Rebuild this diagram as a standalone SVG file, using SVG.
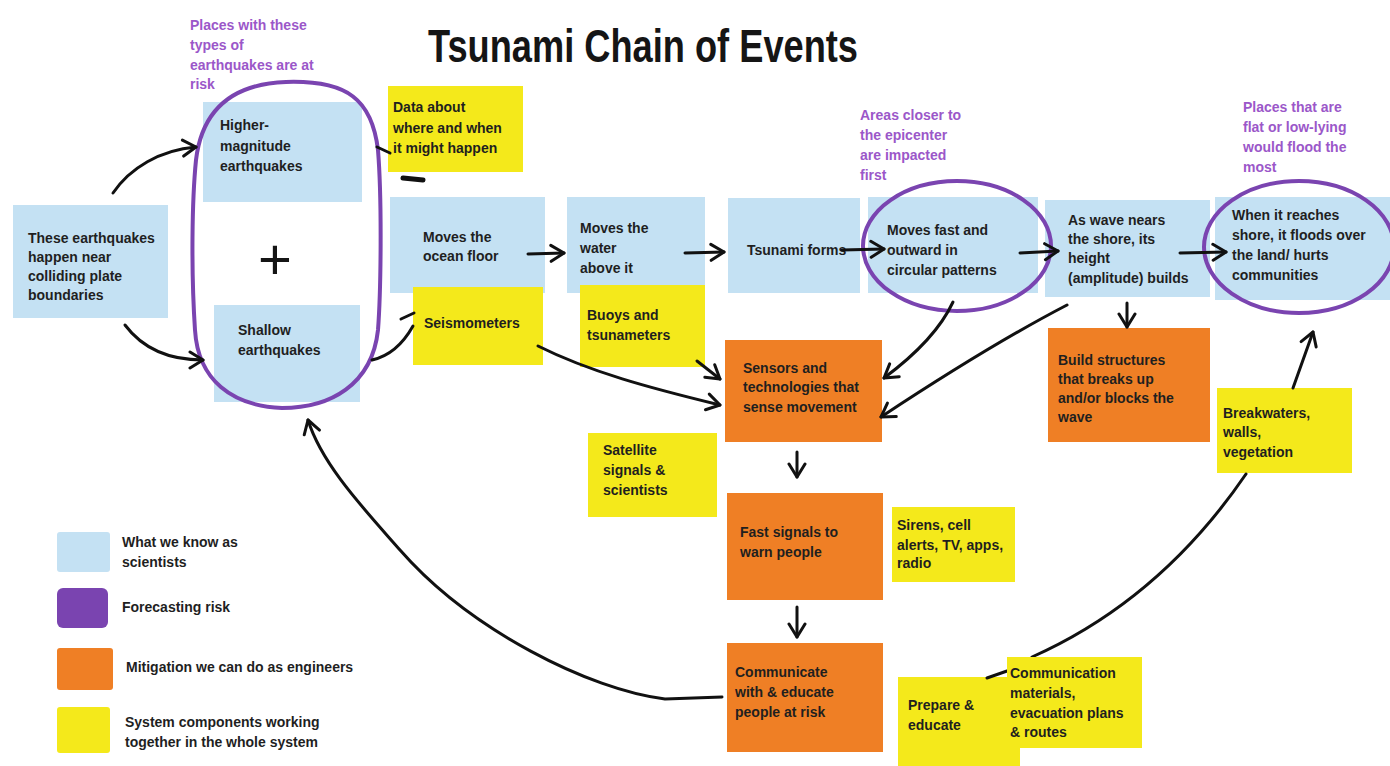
<svg xmlns="http://www.w3.org/2000/svg" width="1390" height="766" viewBox="0 0 1390 766">
  <style>
    .sci rect { fill: #c4e1f3; }
    .sys rect { fill: #f4e91b; }
    .mit rect { fill: #ef7f25; }
    .risk { fill: none; stroke: #7a44b0; stroke-width: 4; }
    text { font-family: "Liberation Sans", Arial, sans-serif; font-weight: bold; font-size: 14px; fill: #1f1f1f; }
    text.p { fill: #9b57c9; }
    text.title { font-family: "Liberation Sans Narrow", "Liberation Sans", Arial, sans-serif; font-size: 46px; fill: #151515; }
    .c { fill: none; stroke: #111; stroke-width: 3; stroke-linecap: round; stroke-linejoin: round; }
  </style>
  <defs>
    <marker id="ah" viewBox="0 0 20 20" refX="17" refY="10" markerWidth="20" markerHeight="20" markerUnits="userSpaceOnUse" orient="auto">
      <path d="M4,2 L17,10 L4,18" fill="none" stroke="#111" stroke-width="3" stroke-linecap="round" stroke-linejoin="round"/>
    </marker>
  </defs>

  <rect width="1390" height="766" fill="#ffffff"/>

  <text class="title" x="428" y="62" textLength="430" lengthAdjust="spacingAndGlyphs">Tsunami Chain of Events</text>

  <!-- What we know as scientists -->
  <g id="plates" class="sci">
    <rect x="13" y="205" width="155" height="113"/>
    <text><tspan x="28" y="243">These earthquakes</tspan><tspan x="28" y="262">happen near</tspan><tspan x="28" y="281">colliding plate</tspan><tspan x="28" y="300">boundaries</tspan></text>
  </g>
  <g id="higher" class="sci">
    <rect x="203" y="102" width="159" height="100"/>
    <text><tspan x="220" y="130">Higher-</tspan><tspan x="220" y="151">magnitude</tspan><tspan x="220" y="171">earthquakes</tspan></text>
  </g>
  <g id="shallow" class="sci">
    <rect x="214" y="305" width="146" height="97"/>
    <text><tspan x="238" y="335">Shallow</tspan><tspan x="238" y="355">earthquakes</tspan></text>
  </g>
  <g id="ocean-floor" class="sci">
    <rect x="390" y="197" width="155" height="96"/>
    <text><tspan x="423" y="242">Moves the</tspan><tspan x="423" y="261">ocean floor</tspan></text>
  </g>
  <g id="water" class="sci">
    <rect x="567" y="197" width="138" height="96"/>
    <text><tspan x="580" y="233">Moves the</tspan><tspan x="580" y="253">water</tspan><tspan x="580" y="273">above it</tspan></text>
  </g>
  <g id="tsunami" class="sci">
    <rect x="728" y="198" width="132" height="95"/>
    <text x="747" y="255">Tsunami forms</text>
  </g>
  <g id="outward" class="sci">
    <rect x="868" y="197" width="170" height="96"/>
    <text><tspan x="887" y="235">Moves fast and</tspan><tspan x="887" y="255">outward in</tspan><tspan x="887" y="275">circular patterns</tspan></text>
  </g>
  <g id="nears-shore" class="sci">
    <rect x="1045" y="200" width="165" height="97"/>
    <text><tspan x="1068" y="225">As wave nears</tspan><tspan x="1068" y="244">the shore, its</tspan><tspan x="1068" y="263">height</tspan><tspan x="1068" y="283">(amplitude) builds</tspan></text>
  </g>
  <g id="floods" class="sci">
    <rect x="1215" y="197" width="175" height="103"/>
    <text><tspan x="1232" y="220">When it reaches</tspan><tspan x="1232" y="240">shore, it floods over</tspan><tspan x="1232" y="260">the land/ hurts</tspan><tspan x="1232" y="280">communities</tspan></text>
  </g>

  <!-- Forecasting risk -->
  <g id="risk-quakes">
    <path class="risk" d="M286,82 C348,80 372,100 378,150 C382,200 381,290 378,330 C372,385 330,408 282,408 C232,406 198,380 195,330 C191,270 192,200 196,160 C202,110 232,84 286,82 Z"/>
    <text x="275" y="279" text-anchor="middle" style="font-weight:normal;font-size:58px;fill:#151515">+</text>
    <text class="p"><tspan x="190" y="30">Places with these</tspan><tspan x="190" y="50">types of</tspan><tspan x="190" y="70">earthquakes are at</tspan><tspan x="190" y="89">risk</tspan></text>
  </g>
  <g id="risk-epicenter">
    <ellipse class="risk" cx="957" cy="246" rx="94" ry="65"/>
    <text class="p"><tspan x="860" y="120">Areas closer to</tspan><tspan x="860" y="140">the epicenter</tspan><tspan x="860" y="160">are impacted</tspan><tspan x="860" y="180">first</tspan></text>
  </g>
  <g id="risk-lowlands">
    <ellipse class="risk" cx="1299" cy="247" rx="95" ry="66"/>
    <text class="p"><tspan x="1243" y="112">Places that are</tspan><tspan x="1243" y="132">flat or low-lying</tspan><tspan x="1243" y="152">would flood the</tspan><tspan x="1243" y="172">most</tspan></text>
  </g>

  <!-- System components -->
  <g id="data" class="sys">
    <rect x="388" y="86" width="135" height="86"/>
    <text><tspan x="393" y="112">Data about</tspan><tspan x="393" y="133">where and when</tspan><tspan x="393" y="153">it might happen</tspan></text>
  </g>
  <g id="seismometers" class="sys">
    <rect x="413" y="287" width="130" height="78"/>
    <text x="424" y="328">Seismometers</text>
  </g>
  <g id="buoys" class="sys">
    <rect x="580" y="285" width="125" height="82"/>
    <text><tspan x="587" y="320">Buoys and</tspan><tspan x="587" y="340">tsunameters</tspan></text>
  </g>
  <g id="satellite" class="sys">
    <rect x="588" y="433" width="129" height="84"/>
    <text><tspan x="603" y="455">Satellite</tspan><tspan x="603" y="475">signals &amp;</tspan><tspan x="603" y="495">scientists</tspan></text>
  </g>
  <g id="sirens" class="sys">
    <rect x="892" y="507" width="123" height="75"/>
    <text><tspan x="897" y="530">Sirens, cell</tspan><tspan x="897" y="550">alerts, TV, apps,</tspan><tspan x="897" y="568">radio</tspan></text>
  </g>
  <g id="breakwaters" class="sys">
    <rect x="1217" y="388" width="135" height="85"/>
    <text><tspan x="1223" y="418">Breakwaters,</tspan><tspan x="1223" y="437">walls,</tspan><tspan x="1223" y="457">vegetation</tspan></text>
  </g>
  <g id="prepare" class="sys">
    <rect x="898" y="677" width="122" height="89"/>
    <text><tspan x="908" y="710">Prepare &amp;</tspan><tspan x="908" y="730">educate</tspan></text>
  </g>

  <!-- Mitigation -->
  <g id="sensors" class="mit">
    <rect x="725" y="340" width="157" height="102"/>
    <text><tspan x="743" y="373">Sensors and</tspan><tspan x="743" y="392">technologies that</tspan><tspan x="743" y="412">sense movement</tspan></text>
  </g>
  <g id="build" class="mit">
    <rect x="1048" y="328" width="162" height="114"/>
    <text><tspan x="1058" y="365">Build structures</tspan><tspan x="1058" y="384">that breaks up</tspan><tspan x="1058" y="403">and/or blocks the</tspan><tspan x="1058" y="422">wave</tspan></text>
  </g>
  <g id="warn" class="mit">
    <rect x="727" y="493" width="156" height="107"/>
    <text><tspan x="740" y="537">Fast signals to</tspan><tspan x="740" y="557">warn people</tspan></text>
  </g>
  <g id="educate" class="mit">
    <rect x="727" y="643" width="156" height="109"/>
    <text><tspan x="735" y="677">Communicate</tspan><tspan x="735" y="697">with &amp; educate</tspan><tspan x="735" y="717">people at risk</tspan></text>
  </g>

  <!-- Legend -->
  <g id="legend">
    <rect x="57" y="532" width="53" height="40" rx="3" fill="#c4e1f3"/>
    <text><tspan x="122" y="547">What we know as</tspan><tspan x="122" y="567">scientists</tspan></text>
    <rect x="57" y="588" width="51" height="40" rx="6" fill="#7a44b0"/>
    <text x="122" y="612">Forecasting risk</text>
    <rect x="57" y="648" width="56" height="42" rx="3" fill="#ef7f25"/>
    <text x="126" y="672">Mitigation we can do as engineers</text>
    <rect x="57" y="707" width="53" height="46" rx="3" fill="#f4e91b"/>
    <text><tspan x="125" y="727">System components working</tspan><tspan x="125" y="747">together in the whole system</tspan></text>
  </g>

  <!-- Connectors -->
  <g id="connectors">
    <path class="c" d="M113,193 C130,168 160,150 196,147" marker-end="url(#ah)"/>
    <path class="c" d="M125,325 C140,345 165,360 203,360" marker-end="url(#ah)"/>
    <path class="c" d="M377,147 L390,153"/>
    <path class="c" d="M403,178 L423,180" style="stroke-width:5"/>
    <path class="c" d="M372,360 C390,356 404,342 413,326"/>
    <path class="c" d="M401,319 L414,313"/>
    <path class="c" d="M528,254 L564,253" marker-end="url(#ah)"/>
    <path class="c" d="M685,253 L724,252" marker-end="url(#ah)"/>
    <path class="c" d="M842,250 L884,249" marker-end="url(#ah)"/>
    <path class="c" d="M1020,253 L1058,251" marker-end="url(#ah)"/>
    <path class="c" d="M1180,253 L1226,252" marker-end="url(#ah)"/>
    <path class="c" d="M538,346 C590,372 650,388 720,405" marker-end="url(#ah)"/>
    <path class="c" d="M697,361 L720,379" marker-end="url(#ah)"/>
    <path class="c" d="M953,302 C940,330 915,355 884,378" marker-end="url(#ah)"/>
    <path class="c" d="M1067,305 Q990,345 881,417" marker-end="url(#ah)"/>
    <path class="c" d="M797,452 L797,477" marker-end="url(#ah)"/>
    <path class="c" d="M797,607 L797,637" marker-end="url(#ah)"/>
    <path class="c" d="M1127,303 L1127,327" marker-end="url(#ah)"/>
    <path class="c" d="M1293,388 L1313,332" marker-end="url(#ah)"/>
    <path class="c" d="M722,697 L665,699 C590,690 470,630 400,550 C365,510 322,465 308,420" marker-end="url(#ah)"/>
    <path class="c" d="M987,678 L1007,671"/>
    <path class="c" d="M1032,657 Q1160,600 1246,474"/>
  </g>

  <!-- drawn last so it overlaps the prepare note -->
  <g id="comm-materials" class="sys">
    <rect x="1007" y="657" width="135" height="91"/>
    <text><tspan x="1010" y="678">Communication</tspan><tspan x="1010" y="698">materials,</tspan><tspan x="1010" y="718">evacuation plans</tspan><tspan x="1010" y="737">&amp; routes</tspan></text>
  </g>
</svg>
